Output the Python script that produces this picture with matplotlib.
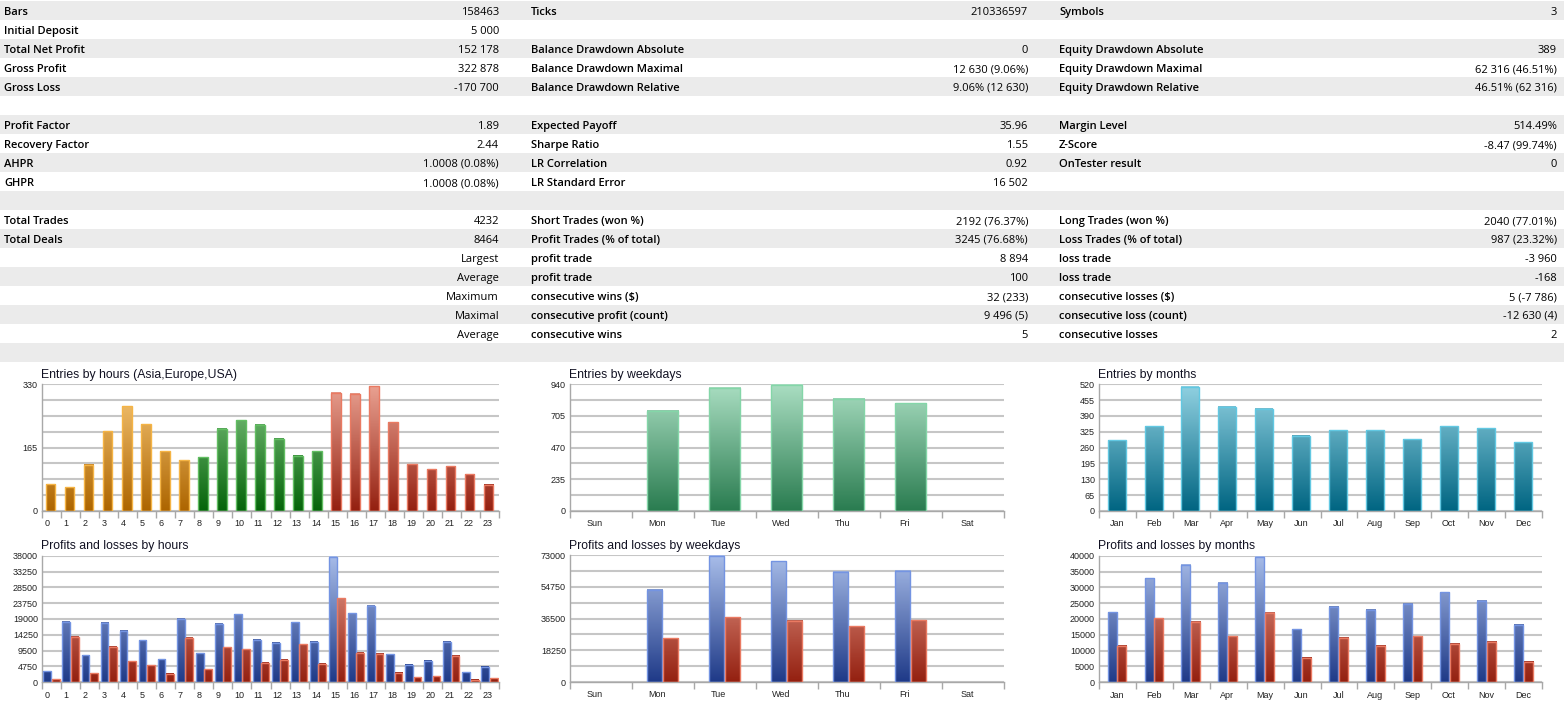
import numpy as np
import matplotlib
matplotlib.use("Agg")
import matplotlib.pyplot as plt
from matplotlib.colors import LinearSegmentedColormap
from matplotlib.patches import Rectangle
from matplotlib.transforms import offset_copy

W, H = 1564, 712

# ---- report table ----
col1_labels = ["Bars", "Initial Deposit", "Total Net Profit", "Gross Profit", "Gross Loss", "",
               "Profit Factor", "Recovery Factor", "AHPR", "GHPR", "",
               "Total Trades", "Total Deals", "", "", "", "", "", ""]
col1_values = ["158463", "5 000", "152 178", "322 878", "-170 700", "",
               "1.89", "2.44", "1.0008 (0.08%)", "1.0008 (0.08%)", "",
               "4232", "8464", "Largest", "Average", "Maximum", "Maximal", "Average", ""]
col2_labels = ["Ticks", "", "Balance Drawdown Absolute", "Balance Drawdown Maximal", "Balance Drawdown Relative", "",
               "Expected Payoff", "Sharpe Ratio", "LR Correlation", "LR Standard Error", "",
               "Short Trades (won %)", "Profit Trades (% of total)", "profit trade", "profit trade",
               "consecutive wins ($)", "consecutive profit (count)", "consecutive wins", ""]
col2_values = ["210336597", "", "0", "12 630 (9.06%)", "9.06% (12 630)", "",
               "35.96", "1.55", "0.92", "16 502", "",
               "2192 (76.37%)", "3245 (76.68%)", "8 894", "100", "32 (233)", "9 496 (5)", "5", ""]
col3_labels = ["Symbols", "", "Equity Drawdown Absolute", "Equity Drawdown Maximal", "Equity Drawdown Relative", "",
               "Margin Level", "Z-Score", "OnTester result", "", "",
               "Long Trades (won %)", "Loss Trades (% of total)", "loss trade", "loss trade",
               "consecutive losses ($)", "consecutive loss (count)", "consecutive losses", ""]
col3_values = ["3", "", "389", "62 316 (46.51%)", "46.51% (62 316)", "",
               "514.49%", "-8.47 (99.74%)", "0", "", "",
               "2040 (77.01%)", "987 (23.32%)", "-3 960", "-168", "5 (-7 786)", "-12 630 (4)", "2", ""]

# ---- chart data ----
hours = [str(h) for h in range(24)]
hour_entries = [70, 62, 121, 208, 273, 226, 155, 132, 140, 214, 237, 224, 188, 144, 155,
                308, 305, 325, 231, 122, 109, 117, 96, 68]
hour_profit = [3300, 18100, 8100, 17800, 15400, 12600, 6900, 19000, 8700, 17500, 20400, 12800,
               11900, 18000, 12100, 37600, 20700, 22900, 8400, 5300, 6500, 12200, 3000, 4600]
hour_loss = [900, 13700, 2700, 10600, 6300, 5100, 2500, 13300, 3900, 10500, 9900, 5800,
             6700, 11400, 5600, 25200, 8800, 8600, 2800, 1500, 1800, 8000, 700, 1200]

weekdays = ["Sun", "Mon", "Tue", "Wed", "Thu", "Fri", "Sat"]
weekday_entries = [0, 745, 913, 935, 831, 801, 0]
weekday_profit = [0, 53200, 72800, 69700, 63400, 64200, 0]
weekday_loss = [0, 25200, 37300, 35200, 32100, 35700, 0]

months = ["Jan", "Feb", "Mar", "Apr", "May", "Jun", "Jul", "Aug", "Sep", "Oct", "Nov", "Dec"]
month_entries = [290, 348, 510, 428, 419, 308, 331, 331, 294, 348, 339, 283]
month_profit = [22100, 32800, 37200, 31400, 39600, 16700, 23700, 23000, 24700, 28400, 25800, 18100]
month_loss = [11400, 20200, 19000, 14500, 22000, 7800, 14100, 11400, 14500, 12200, 12800, 6400]


def grad(name, bottom, top):
    return LinearSegmentedColormap.from_list(name, [bottom, top])


cm_orange = grad("orange", "#ad6500", "#f8c878")
cm_green = grad("green", "#05640a", "#86c886")
cm_red = grad("red", "#942010", "#eaa292")
cm_blue = grad("blue", "#1f3a88", "#a8bde9")
cm_teal = grad("teal", "#006582", "#92d2e2")
cm_mint = grad("mint", "#2a7c50", "#aadec2")

fig = plt.figure(figsize=(W / 100, H / 100), dpi=100)

# table drawn in pixel coordinates
tab = fig.add_axes([0, 0, 1, 1])
tab.set_xlim(0, W)
tab.set_ylim(H, 0)
tab.axis("off")
tfont = dict(family="Open Sans", fontsize=8.0, color="#000000", va="baseline")
for i in range(len(col1_labels)):
    y0 = 1 + 19 * i
    if i % 2 == 0:
        tab.add_patch(Rectangle((0, y0), W, 19, color="#ebebeb", lw=0))
    yb = y0 + 14
    tab.text(4, yb, col1_labels[i], ha="left", weight="semibold", **tfont)
    tab.text(499, yb, col1_values[i], ha="right", **tfont)
    tab.text(531, yb, col2_labels[i], ha="left", weight="semibold", **tfont)
    tab.text(1028, yb, col2_values[i], ha="right", **tfont)
    tab.text(1059, yb, col3_labels[i], ha="left", weight="semibold", **tfont)
    tab.text(1557, yb, col3_values[i], ha="right", **tfont)


def px_axes(x0, y0, x1, y1):
    return fig.add_axes([x0 / W, 1 - y1 / H, (x1 - x0) / W, (y1 - y0) / H])


def gradient_bars(ax, pos, vals, width, cmaps, edges, ymax):
    bars = ax.bar(pos, vals, width=width, facecolor="none", edgecolor=edges, lw=1.0, zorder=3)
    for b, cm in zip(bars, cmaps):
        h = b.get_height()
        if h <= 0:
            b.set_visible(False)
            continue
        x = b.get_x()
        g = np.linspace(0, h / ymax, 100).reshape(-1, 1)
        ax.imshow(g, extent=[x, x + b.get_width(), 0, h], origin="lower", cmap=cm,
                  vmin=0, vmax=1, aspect="auto", zorder=2, interpolation="bilinear")
    return bars


def style_axes(ax, title, cats, ymax, major, minor, lab_off, lab_ha):
    n = len(cats)
    ax.set_xlim(0, n)
    ax.set_ylim(0, ymax)
    ax.set_yticks(np.arange(0, ymax + 1, major))
    ax.set_yticks(np.arange(0, ymax + 1, minor), minor=True)
    ax.yaxis.grid(True, which="both", color="#c6c6c6", lw=1.5, zorder=0)
    ax.set_axisbelow(True)
    ax.set_xticks(np.arange(n) + lab_off)
    ax.set_xticklabels(cats, ha=lab_ha)
    ax.set_xticks(np.arange(n + 1), minor=True)
    ax.tick_params(axis="x", which="major", length=0, pad=6, labelsize=6.5, labelcolor="#222222")
    ax.tick_params(axis="x", which="minor", length=5, color="#a8a8a8", width=1)
    ax.tick_params(axis="y", which="both", length=0, pad=3, labelsize=6.5, labelcolor="#222222")
    for lab in ax.get_xticklabels() + ax.get_yticklabels():
        lab.set_family("Liberation Sans")
    for s in ("top", "right"):
        ax.spines[s].set_visible(False)
    for s in ("left", "bottom"):
        ax.spines[s].set_color("#a8a8a8")
        ax.spines[s].set_linewidth(1)
    ax.set_facecolor("white")
    tr = offset_copy(ax.transAxes, fig=fig, x=0, y=2.5, units="points")
    ax.text(-0.002, 1.0, title, transform=tr, ha="left", va="bottom",
            family="Liberation Sans", fontsize=8.8, color="#111122")


hour_cmaps = [cm_orange] * 8 + [cm_green] * 7 + [cm_red] * 9
hour_edges = ["#f5b445"] * 8 + ["#62be62"] * 7 + ["#ea7a62"] * 9
x24 = np.arange(24)
x7 = np.arange(7)
x12 = np.arange(12)

# entries by hours
ax = px_axes(42, 384.3, 499, 511)
gradient_bars(ax, x24 + 0.447, hour_entries, 0.508, hour_cmaps, hour_edges, 330)
style_axes(ax, "Entries by hours (Asia,Europe,USA)", hours, 330, 165, 41.25, 0.12, "left")

# profits and losses by hours
ax = px_axes(42, 555.7, 499, 682.3)
gradient_bars(ax, x24 + 0.28, hour_profit, 0.41, [cm_blue] * 24, "#7494e2", 38000)
gradient_bars(ax, x24 + 0.72, hour_loss, 0.41, [cm_red] * 24, "#ea7a62", 38000)
style_axes(ax, "Profits and losses by hours", hours, 38000, 4750, 4750, 0.12, "left")

# entries by weekdays
ax = px_axes(570, 384.3, 1004, 511)
gradient_bars(ax, x7 + 0.495, weekday_entries, 0.505, [cm_mint] * 7, "#84d6a8", 940)
style_axes(ax, "Entries by weekdays", weekdays, 940, 235, 117.5, 0.40, "center")

# profits and losses by weekdays
ax = px_axes(570, 555.3, 1004, 682)
gradient_bars(ax, x7 + 0.366, weekday_profit, 0.247, [cm_blue] * 7, "#7494e2", 73000)
gradient_bars(ax, x7 + 0.624, weekday_loss, 0.247, [cm_red] * 7, "#ea7a62", 73000)
style_axes(ax, "Profits and losses by weekdays", weekdays, 73000, 18250, 9125, 0.40, "center")

# entries by months
ax = px_axes(1099, 384.3, 1542, 511)
gradient_bars(ax, x12 + 0.478, month_entries, 0.487, [cm_teal] * 12, "#62c8e2", 520)
style_axes(ax, "Entries by months", months, 520, 65, 65, 0.48, "center")

# profits and losses by months
ax = px_axes(1099, 555.7, 1542, 682.3)
gradient_bars(ax, x12 + 0.356, month_profit, 0.245, [cm_blue] * 12, "#7494e2", 40000)
gradient_bars(ax, x12 + 0.622, month_loss, 0.245, [cm_red] * 12, "#ea7a62", 40000)
style_axes(ax, "Profits and losses by months", months, 40000, 5000, 5000, 0.48, "center")

fig.savefig("out.png", dpi=100, facecolor="white")
